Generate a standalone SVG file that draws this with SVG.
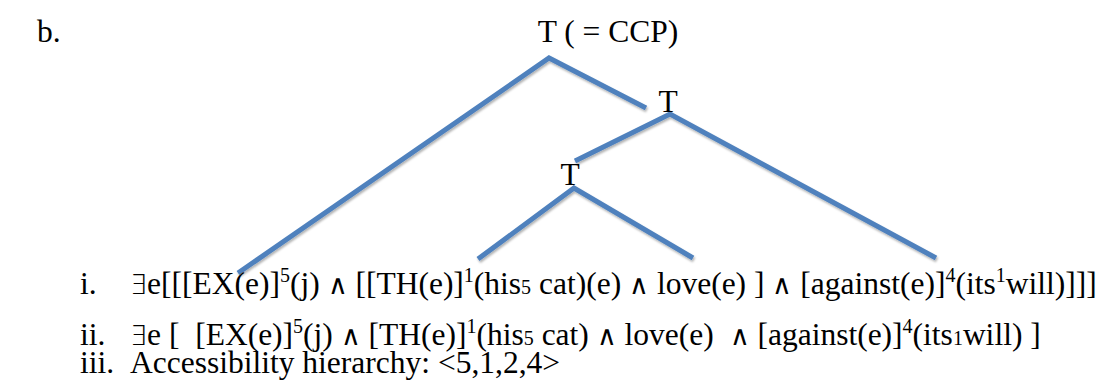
<svg xmlns="http://www.w3.org/2000/svg" width="1113" height="383" viewBox="0 0 1113 383">
<style>
text{font-family:"Liberation Serif","Times New Roman",serif;font-size:31.5px;fill:#000}
.sup{font-size:20px}
.sym{font-family:"DejaVu Sans ExtraLight","DejaVu Sans",sans-serif;font-weight:200;font-size:27px}
.edge{stroke:#4F81BD;stroke-width:5;fill:none;stroke-linecap:butt;stroke-linejoin:miter}
</style>
<defs>
<filter id="sh" x="-10%" y="-10%" width="120%" height="130%">
<feDropShadow dx="1" dy="2" stdDeviation="1.2" flood-color="#000" flood-opacity="0.3"/>
</filter>
</defs>
<rect width="1113" height="383" fill="#fff"/>
<text x="37" y="42">b.</text>
<g id="edges" filter="url(#sh)">
<polyline class="edge" points="238,273 549,58 646,108"/>
<polyline class="edge" points="575,161 670,114 936,258"/>
<polyline class="edge" points="478,259 574,188 693,258"/>
</g>
<g id="node-root"><text x="608" y="42" text-anchor="middle">T ( = CCP)</text></g>
<g id="node-t1"><text x="668" y="112" text-anchor="middle">T</text></g>
<g id="node-t2"><text x="570" y="185" text-anchor="middle">T</text></g>
<g id="line-i"><text x="80" y="294">i.</text>
<text x="130" y="294"><tspan class="sym">∃</tspan>e[[[EX(e)]<tspan class="sup" dy="-12">5</tspan><tspan dy="12">(j) </tspan><tspan class="sym">∧</tspan> [[TH(e)]<tspan class="sup" dy="-12">1</tspan><tspan dy="12">(his</tspan><tspan class="sup">5</tspan> cat)(e) <tspan class="sym">∧</tspan> love(e) ] <tspan class="sym">∧</tspan> [against(e)]<tspan class="sup" dy="-12">4</tspan><tspan dy="12">(its</tspan><tspan class="sup" dy="-12">1</tspan><tspan dy="12">will)]]]</tspan></text></g>
<g id="line-ii"><text x="80" y="345">ii.</text>
<text x="130" y="345" xml:space="preserve"><tspan class="sym">∃</tspan>e [  [EX(e)]<tspan class="sup" dy="-12">5</tspan><tspan dy="12">(j) </tspan><tspan class="sym">∧</tspan> [TH(e)]<tspan class="sup" dy="-12">1</tspan><tspan dy="12">(his</tspan><tspan class="sup">5</tspan> cat) <tspan class="sym">∧</tspan> love(e)  <tspan class="sym">∧</tspan> [against(e)]<tspan class="sup" dy="-12">4</tspan><tspan dy="12">(its</tspan><tspan class="sup">1</tspan>will) ]</text></g>
<g id="line-iii"><text x="80" y="373">iii.</text>
<text x="130" y="373">Accessibility hierarchy: &lt;5,1,2,4&gt;</text></g>
</svg>
